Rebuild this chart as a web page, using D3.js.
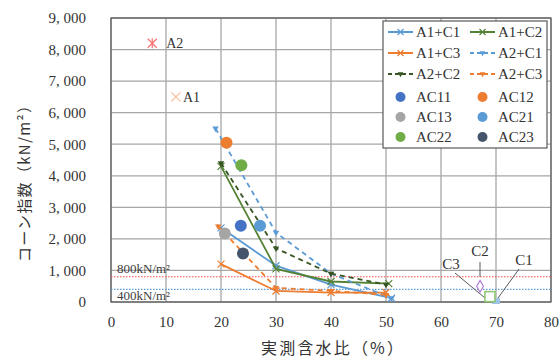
<!DOCTYPE html>
<html><head><meta charset="utf-8">
<script src="https://cdn.jsdelivr.net/npm/d3@7"></script>
<style>body{margin:0;background:#fff}svg{display:block}</style>
</head><body><svg id="c" width="560" height="361"></svg>
<script>
// ---- data ----
const xTicks = [0,10,20,30,40,50,60,70,80];
const yTicks = [0,1000,2000,3000,4000,5000,6000,7000,8000,9000];
const lineNames = ["A1+C1","A1+C2","A1+C3","A2+C1","A2+C2","A2+C3"];
const a1c1X = [20,30,40,51],  a1c1Y = [2350,1150,550,120];
const a1c2X = [20,30,40,50.5],a1c2Y = [4300,1050,650,580];
const a1c3X = [20,30,40,50],  a1c3Y = [1200,350,300,300];
const a2c1X = [19,30,40,51],  a2c1Y = [5500,2200,900,120];
const a2c2X = [20,30,40,50],  a2c2Y = [4400,1700,900,550];
const a2c3X = [19.5,30,40,50],a2c3Y = [2400,450,350,230];
const pointNames = ["AC11","AC12","AC13","AC21","AC22","AC23"];
const pointX = [23.6,21.0,20.7,27.1,23.7,24.0];
const pointY = [2420,5050,2170,2420,4330,1540];
const aNames = ["A2","A1"], aX = [7.5,11.8], aY = [8200,6500];
const cNames = ["C1","C2","C3"], cX = [70.0,67.1,68.9], cY = [30,500,170];
const refValues = [800,400], refLabels = ["800kN/m²","400kN/m²"];

// ---- styles ----
const lineColors = ["#5B9BD5","#548235","#ED7D31","#5B9BD5","#375623","#ED7D31"];
const lineDash = [null,null,null,"5,4","5,4","5,4"];
const pointColors = ["#4472C4","#ED7D31","#A5A5A5","#5B9BD5","#70AD47","#44546A"];
const serif = "'Liberation Serif','DejaVu Serif',serif";

const svg = d3.select("#c");
const L=111,R=551,T=18,B=302;
const x = d3.scaleLinear().domain([0,80]).range([L,R]);
const y = d3.scaleLinear().domain([0,9000]).range([B,T]);

// grid
svg.append("g").selectAll("line").data(xTicks).join("line")
  .attr("x1",d=>x(d)).attr("x2",d=>x(d)).attr("y1",T).attr("y2",B)
  .attr("stroke","#a6a6a6").attr("stroke-width",1.3);
svg.append("g").selectAll("line").data(yTicks).join("line")
  .attr("x1",L).attr("x2",R).attr("y1",d=>y(d)).attr("y2",d=>y(d))
  .attr("stroke","#a6a6a6").attr("stroke-width",1.3);
svg.append("rect").attr("x",L).attr("y",T).attr("width",R-L).attr("height",B-T)
  .attr("fill","none").attr("stroke","#595959").attr("stroke-width",1.2);

// axes
const fmt = d=>d3.format(",")(d).replace(",", ", ");
const ya = svg.append("g").attr("transform",`translate(${L},0)`)
  .call(d3.axisLeft(y).tickValues(yTicks).tickFormat(fmt).tickSize(0).tickPadding(25));
const xa = svg.append("g").attr("transform",`translate(0,${B})`)
  .call(d3.axisBottom(x).tickValues(xTicks).tickSize(0).tickPadding(14));
[ya,xa].forEach(a=>{a.select(".domain").remove();
  a.selectAll("text").attr("font-family",serif).attr("font-size",15).attr("fill","#333");});

// reference lines
const refColors = ["#FF4B4B","#5B9BD5"];
refValues.forEach((v,i)=>{
  svg.append("line").attr("x1",L).attr("x2",R).attr("y1",y(v)).attr("y2",y(v))
    .attr("stroke",refColors[i]).attr("stroke-width",1.2).attr("stroke-dasharray","1.5,1.5");
});
svg.append("text").attr("x",117).attr("y",y(800)-4).text(refLabels[0])
  .attr("font-family",serif).attr("font-size",13).attr("fill","#404040");
svg.append("text").attr("x",117).attr("y",y(0)-2).text(refLabels[1])
  .attr("font-family",serif).attr("font-size",13).attr("fill","#404040");

// lines
const lx=[a1c1X,a1c2X,a1c3X,a2c1X,a2c2X,a2c3X], ly=[a1c1Y,a1c2Y,a1c3Y,a2c1Y,a2c2Y,a2c3Y];
const gen = d3.line().x(d=>x(d[0])).y(d=>y(d[1]));
function xMark(g,cx,cy,s,col){
  g.append("path").attr("d",`M${cx-s},${cy-s}L${cx+s},${cy+s}M${cx-s},${cy+s}L${cx+s},${cy-s}`)
   .attr("stroke",col).attr("stroke-width",1.2).attr("fill","none");
}
lineNames.forEach((n,i)=>{
  const pts = lx[i].map((v,j)=>[v,ly[i][j]]);
  svg.append("path").attr("d",gen(pts)).attr("fill","none").attr("stroke",lineColors[i])
    .attr("stroke-width",1.8).attr("stroke-dasharray",lineDash[i]);
  pts.forEach(p=>{
    if(i<3) xMark(svg,x(p[0]),y(p[1]),3.5,lineColors[i]);
    else svg.append("path").attr("d",d3.symbol(d3.symbolTriangle,18)())
      .attr("transform",`translate(${x(p[0])},${y(p[1])}) rotate(180)`).attr("fill",lineColors[i]);
  });
});

// points
pointNames.forEach((n,i)=>{
  svg.append("circle").attr("cx",x(pointX[i])).attr("cy",y(pointY[i])).attr("r",6)
    .attr("fill",pointColors[i]);
});

// A1 / A2
xMark(svg,x(aX[0]),y(aY[0]),4.5,"#FF6F6F");
svg.append("line").attr("x1",x(aX[0])).attr("x2",x(aX[0])).attr("y1",y(aY[0])-5).attr("y2",y(aY[0])+5)
  .attr("stroke","#FF6F6F").attr("stroke-width",1.2);
xMark(svg,x(aX[1]),y(aY[1]),4.5,"#F8BE9A");
svg.append("text").attr("x",x(aX[0])+14).attr("y",y(aY[0])+5).text(aNames[0])
  .attr("font-family",serif).attr("font-size",14).attr("fill","#333");
svg.append("text").attr("x",x(aX[1])+7).attr("y",y(aY[1])+5).text(aNames[1])
  .attr("font-family",serif).attr("font-size",14).attr("fill","#333");

// C markers
const cg = svg.append("g");
cg.append("line").attr("x1",455).attr("y1",273).attr("x2",485).attr("y2",298).attr("stroke","#595959");
cg.append("line").attr("x1",480).attr("y1",262).attr("x2",480).attr("y2",277).attr("stroke","#595959");
cg.append("line").attr("x1",519).attr("y1",269).attr("x2",498).attr("y2",298).attr("stroke","#595959");
cg.append("rect").attr("x",x(cX[0])-4).attr("y",y(cY[0])-3).attr("width",8).attr("height",6).attr("fill","#9DC3E6");
cg.append("path").attr("d",d3.symbol(d3.symbolDiamond,40)()).attr("transform",`translate(${x(cX[1])},${y(cY[1])})`)
  .attr("fill","#fff").attr("stroke","#B07CE0").attr("stroke-width",1.2);
cg.append("rect").attr("x",x(cX[2])-5).attr("y",y(cY[2])-5).attr("width",10).attr("height",10)
  .attr("fill","#fff").attr("stroke","#8CC56E").attr("stroke-width",1.5);
[[cNames[0],524,265],[cNames[1],480,256],[cNames[2],451,269]].forEach(d=>{
  svg.append("text").attr("x",d[1]).attr("y",d[2]).attr("text-anchor","middle").text(d[0])
    .attr("font-family",serif).attr("font-size",15).attr("fill","#333");
});

// legend
const lg = svg.append("g");
lg.append("rect").attr("x",383).attr("y",21).attr("width",164).attr("height",127)
  .attr("fill","#fff").attr("stroke","#595959").attr("stroke-width",1.2);
const rowY = [32,53,74,97,117,137], colX = [388,470];
lineNames.forEach((n,i)=>{
  const cx = colX[i%2], cy = rowY[Math.floor(i/2)];
  lg.append("line").attr("x1",cx).attr("x2",cx+25).attr("y1",cy).attr("y2",cy)
    .attr("stroke",lineColors[i]).attr("stroke-width",2).attr("stroke-dasharray",lineDash[i]?"4,3":null);
  if(i<3) xMark(lg,cx+12.5,cy,3,lineColors[i]);
  else lg.append("path").attr("d",d3.symbol(d3.symbolTriangle,14)())
      .attr("transform",`translate(${cx+12.5},${cy}) rotate(180)`).attr("fill",lineColors[i]);
  lg.append("text").attr("x",cx+28).attr("y",cy+5).text(n)
    .attr("font-family",serif).attr("font-size",15).attr("fill","#333");
});
pointNames.forEach((n,i)=>{
  const cx = colX[i%2], cy = rowY[3+Math.floor(i/2)];
  lg.append("circle").attr("cx",cx+12.5).attr("cy",cy).attr("r",5).attr("fill",pointColors[i]);
  lg.append("text").attr("x",cx+28).attr("y",cy+5).text(n)
    .attr("font-family",serif).attr("font-size",15).attr("fill","#333");
});

// axis titles
svg.append("text").attr("transform","translate(25,180) rotate(-90)").attr("text-anchor","middle")
  .attr("textLength",164).attr("lengthAdjust","spacing")
  .text("コーン指数（kN/m²）").attr("font-family","'Noto Sans CJK JP',sans-serif")
  .attr("font-size",15).attr("fill","#333").attr("dy","0.35em");
svg.append("text").attr("x",332).attr("y",348).attr("dy","0.35em").attr("text-anchor","middle")
  .attr("textLength",142).attr("lengthAdjust","spacing")
  .text("実測含水比（%）").attr("font-family","'Noto Sans CJK JP',sans-serif")
  .attr("font-size",16).attr("fill","#333");
</script></body></html>
